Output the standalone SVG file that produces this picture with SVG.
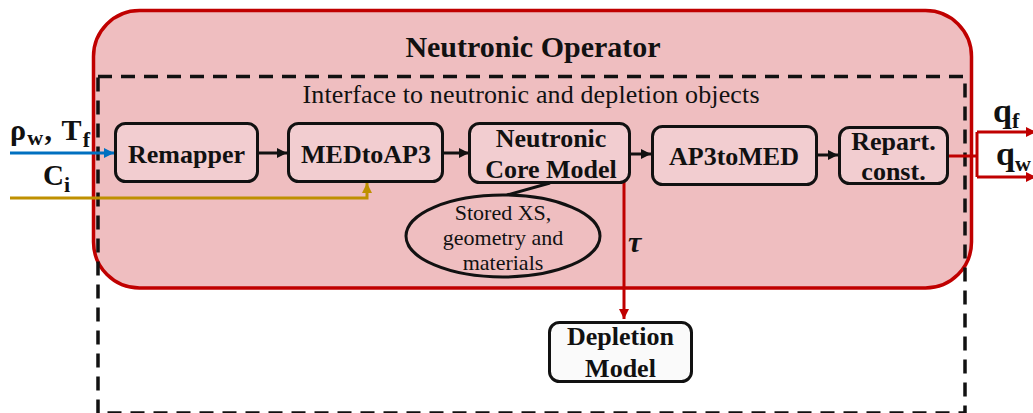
<svg xmlns="http://www.w3.org/2000/svg" width="1033" height="413" viewBox="0 0 1033 413">
<defs>
<style>
.box{fill:#f2cdd0;stroke:#111;stroke-width:3}
.bt{font-family:"Liberation Serif","Times New Roman",serif;font-weight:bold;font-size:26px;fill:#111;text-anchor:middle}
.rt{font-family:"Liberation Serif","Times New Roman",serif;font-size:22px;fill:#111;text-anchor:middle}
.lab{font-family:"Liberation Serif","Times New Roman",serif;font-weight:bold;fill:#111}
.conn{fill:none;stroke-width:3}
</style>
<marker id="ak" viewBox="0 0 10 10" refX="10" refY="5" markerWidth="11" markerHeight="10" markerUnits="userSpaceOnUse" orient="auto"><path d="M0,0L10,5L0,10z" fill="#111"/></marker>
<marker id="ar" viewBox="0 0 10 10" refX="10" refY="5" markerWidth="11" markerHeight="10" markerUnits="userSpaceOnUse" orient="auto"><path d="M0,0L10,5L0,10z" fill="#c00000"/></marker>
<marker id="ab" viewBox="0 0 10 10" refX="10" refY="5" markerWidth="11" markerHeight="10" markerUnits="userSpaceOnUse" orient="auto"><path d="M0,0L10,5L0,10z" fill="#0070c0"/></marker>
<marker id="ag" viewBox="0 0 10 10" refX="10" refY="5" markerWidth="11" markerHeight="10" markerUnits="userSpaceOnUse" orient="auto"><path d="M0,0L10,5L0,10z" fill="#bf9000"/></marker>
</defs>
<rect width="1033" height="413" fill="#fff"/>
<g id="operator">
<rect x="93.5" y="10.5" width="878" height="277.5" rx="46" fill="#efbec0" stroke="#c00000" stroke-width="3.5"/>
<text x="533" y="57" class="lab" font-size="30" text-anchor="middle">Neutronic Operator</text>
</g>
<g id="interface">
<rect x="98" y="76.5" width="867" height="336.5" fill="none" stroke="#111" stroke-width="3.5" stroke-dasharray="14 9"/>
<text x="531" y="103" font-family="Liberation Serif,'Times New Roman',serif" font-size="26" fill="#111" text-anchor="middle" textLength="457">Interface to neutronic and depletion objects</text>
</g>
<g id="connectors">
<path class="conn" stroke="#111" d="M258,153H287" marker-end="url(#ak)"/>
<path class="conn" stroke="#111" d="M443,153H469" marker-end="url(#ak)"/>
<path class="conn" stroke="#111" d="M630,154H651" marker-end="url(#ak)"/>
<path class="conn" stroke="#111" d="M817,155H838" marker-end="url(#ak)"/>
<path class="conn" stroke="#111" stroke-width="2.5" d="M507,195L550,183"/>
<path class="conn" stroke="#0070c0" d="M10,153H114" marker-end="url(#ab)"/>
<path class="conn" stroke="#bf9000" d="M10,198H367V183" marker-end="url(#ag)"/>
<path class="conn" stroke="#c00000" d="M624,176V319" marker-end="url(#ar)"/>
<path class="conn" stroke="#c00000" d="M948,156H977"/>
<path class="conn" stroke="#c00000" d="M977,132V177"/>
<path class="conn" stroke="#c00000" d="M977,132H1036" marker-end="url(#ar)"/>
<path class="conn" stroke="#c00000" d="M977,177H1036" marker-end="url(#ar)"/>
</g>
<g id="remapper">
<rect class="box" x="115.5" y="123.5" width="142" height="58" rx="10"/>
<text class="bt" x="186.5" y="163">Remapper</text>
</g>
<g id="medtoap3">
<rect class="box" x="288.5" y="123.5" width="154" height="58" rx="10"/>
<text class="bt" x="366" y="163">MEDtoAP3</text>
</g>
<g id="core">
<rect class="box" x="469.5" y="123.5" width="160" height="59" rx="10"/>
<text class="bt" x="551" y="147">Neutronic</text>
<text class="bt" x="551" y="178">Core Model</text>
</g>
<g id="ap3tomed">
<rect class="box" x="652.5" y="126.5" width="164" height="58" rx="10"/>
<text class="bt" x="734" y="165">AP3toMED</text>
</g>
<g id="repart">
<rect class="box" x="839.5" y="127.5" width="108" height="56" rx="10"/>
<text class="bt" x="893.5" y="150">Repart.</text>
<text class="bt" x="893.5" y="180">const.</text>
</g>
<g id="stored">
<ellipse cx="503" cy="236" rx="97" ry="41" fill="#efbec0" stroke="#111" stroke-width="3"/>
<text class="rt" x="503" y="220">Stored XS,</text>
<text class="rt" x="503" y="245">geometry and</text>
<text class="rt" x="503" y="270">materials</text>
</g>
<g id="depletion">
<rect x="549.5" y="322.5" width="142" height="59" rx="10" fill="#fafafa" stroke="#111" stroke-width="3"/>
<text class="bt" x="620.5" y="345">Depletion</text>
<text class="bt" x="620.5" y="377">Model</text>
</g>
<g id="labels">
<text class="lab" x="10" y="140" font-size="30" textLength="80">ρ<tspan font-size="22" dy="5">w</tspan><tspan dy="-5">, T</tspan><tspan font-size="22" dy="7">f</tspan></text>
<text class="lab" x="43" y="185" font-size="29">C<tspan font-size="22" dy="7">i</tspan></text>
<text class="lab" x="993" y="122" font-size="34">q<tspan font-size="22" dy="6">f</tspan></text>
<text class="lab" x="996" y="165" font-size="34">q<tspan font-size="22" dy="6">w</tspan></text>
<text class="lab" x="628" y="252" font-size="30" font-style="italic">τ</text>
</g>
</svg>
